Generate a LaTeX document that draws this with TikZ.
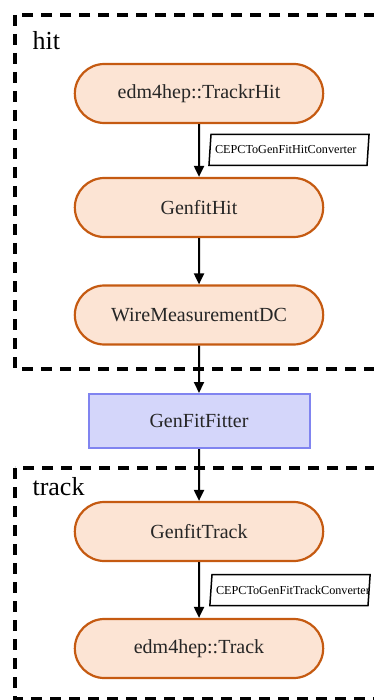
\documentclass[tikz,border=0pt]{standalone}
\usepackage{fontspec}
\setmainfont{Liberation Serif}
\usetikzlibrary{arrows.meta,shapes.geometric,shapes.misc}

\definecolor{objfill}{RGB}{252,228,212}
\definecolor{objdraw}{RGB}{197,90,17}
\definecolor{algfill}{RGB}{212,214,250}
\definecolor{algdraw}{RGB}{128,132,240}

\begin{document}
\begin{tikzpicture}[
  x=1pt, y=-1pt,
  obj/.style={rounded rectangle, draw=objdraw, fill=objfill, line width=2.2pt,
    minimum width=255pt, minimum height=59pt, text=black!85,
    font=\fontsize{20}{24}\selectfont},
  alg/.style={rectangle, draw=algdraw, fill=algfill, line width=2pt,
    minimum width=221pt, minimum height=54pt, text=black!85,
    font=\fontsize{20}{24}\selectfont},
  conv/.style={trapezium, trapezium left angle=76, trapezium right angle=104,
    trapezium stretches body, draw, line width=1.5pt, minimum height=31pt,
    inner xsep=4pt, inner ysep=0pt, font=\fontsize{12.2}{14}\selectfont},
  group/.style={draw, line width=3.2pt, dash pattern=on 11pt off 8pt},
  grouplabel/.style={anchor=base west, font=\fontsize{26}{30}\selectfont},
  arr/.style={-{Triangle[width=10pt,length=11pt]}, line width=2pt}
]
\clip (0,0) rectangle (374,700);

% hit / track containers
\draw[group] (15,15) rectangle (392,369);
\node[grouplabel] (hitlbl) at (29,50) {hit};
\draw[group] (15,468) rectangle (392,699);
\node[grouplabel] (trklbl) at (29,495) {track};

% data objects and fitter
\node[obj] (trkhit)  at (199,93.5)  {edm4hep::TrackrHit};
\node[obj] (gfhit)   at (199,207.5) {GenfitHit};
\node[obj] (wire)    at (199,315)   {WireMeasurementDC};
\node[alg] (fitter)  at (199,421)   {GenFitFitter};
\node[obj] (gftrack) at (199,531.5) {GenfitTrack};
\node[obj] (trk)     at (199,648.5) {edm4hep::Track};

% converters
\node[conv] (hitconv) at (289,150) {\makebox[148pt][l]{CEPCToGenFitHitConverter}};
\node[conv] (trkconv) at (290,590) {\makebox[148pt][l]{CEPCToGenFitTrackConverter}};

\draw[arr] (trkhit) -- (gfhit);
\draw[arr] (gfhit) -- (wire);
\draw[arr] (wire) -- (fitter);
\draw[arr] (fitter) -- (gftrack);
\draw[arr] (gftrack) -- (trk);

\end{tikzpicture}
\end{document}
